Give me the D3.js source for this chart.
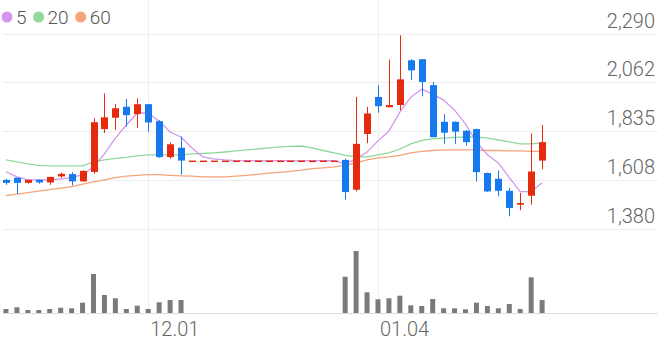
<!DOCTYPE html>
<html>
<head>
<meta charset="utf-8">
<script src="https://cdn.jsdelivr.net/npm/d3@7"></script>
<style>
  html, body { margin: 0; padding: 0; background: #fff; }
  svg { display: block; font-family: Roboto, "Noto Sans", sans-serif; }
</style>
</head>
<body>
<svg id="chart" width="658" height="342"></svg>
<script>
// trading days, Nov 14 .. Jan 25 (Dec 7 - Dec 27 halted)
const dates = ["11.14","11.15","11.16","11.17","11.20","11.21","11.22","11.23","11.24","11.27",
  "11.28","11.29","11.30","12.01","12.04","12.05","12.06","12.07","12.08","12.11",
  "12.12","12.13","12.14","12.15","12.18","12.19","12.20","12.21","12.22","12.26",
  "12.27","12.28","01.02","01.03","01.04","01.05","01.08","01.09","01.10","01.11",
  "01.12","01.15","01.16","01.17","01.18","01.19","01.22","01.23","01.24","01.25"];

const open  = [1607,1617,1593,1607,1595,1623,1634,1600,1644,1844,1897,1948,1914,1960,1881,1713,1757,
  1697,1697,1697,1697,1697,1697,1697,1697,1697,1697,1697,1697,1697,1697,
  1700,1561,1821,1994,1946,1956,2165,2170,2049,1878,1878,1836,1844,1639,1612,1556,1491,1533,1697];
const high  = [1612,1617,1607,1609,1621,1641,1643,1651,1894,2010,1960,1984,1987,1962,1885,1781,1809,
  1697,1697,1697,1697,1697,1697,1697,1697,1697,1697,1697,1697,1697,1697,
  1705,1994,1948,2049,2168,2281,2170,2170,2064,1914,1880,1840,1846,1641,1651,1569,1546,1824,1863];
const low   = [1584,1542,1589,1589,1584,1617,1581,1598,1635,1826,1840,1855,1850,1832,1710,1706,1631,
  1697,1697,1697,1697,1697,1697,1697,1697,1697,1697,1697,1697,1697,1697,
  1515,1553,1778,1920,1946,1932,2072,1997,1806,1775,1775,1767,1600,1550,1530,1437,1465,1491,1657];
const close = [1593,1593,1607,1595,1621,1635,1600,1649,1876,1899,1941,1909,1960,1875,1713,1773,1697,
  1697,1697,1697,1697,1697,1697,1697,1697,1697,1697,1697,1697,1697,1697,
  1550,1775,1917,1951,1956,2076,2118,2064,1806,1827,1832,1783,1643,1553,1556,1476,1499,1646,1783];
const volume = [4000,5700,3000,3000,4000,5300,4700,10300,39000,18000,14700,4000,7300,4000,10700,13000,13000,
  0,0,0,0,0,0,0,0,0,0,0,0,0,0,
  36300,62000,20700,13700,14700,17300,7700,7000,14000,4700,4700,3700,10300,7000,4700,9000,4000,35700,13000];

const ma5  = [1645,1621,1607,1607,1607,1612,1617,1631,1668,1728,1802,1863,1919,1919,1881,1830,1807,
  1756,1714,1705,1700,1697,1697,1697,1697,1697,1697,1697,1697,1697,1697,
  1682,1705,1737,1789,1835,1923,1993,2030,2007,1979,1932,1867,1784,1724,1686,1617,1552,1552,1593];
const ma20 = [1700,1691,1682,1675,1672,1672,1672,1672,1691,1700,1707,1712,1719,1724,1724,1724,1724,
  1728,1730,1733,1737,1742,1747,1751,1756,1761,1763,1765,1756,1744,1733,
  1721,1714,1714,1724,1733,1751,1775,1791,1798,1802,1805,1807,1807,1802,1793,1784,1775,1775,1779];
const ma60 = [1533,1540,1547,1554,1561,1568,1575,1587,1598,1607,1617,1624,1628,1631,1631,1628,1626,
  1624,1621,1621,1621,1624,1628,1633,1638,1642,1647,1652,1659,1663,1668,
  1675,1686,1700,1710,1714,1721,1733,1740,1744,1747,1747,1747,1747,1744,1744,1742,1742,1740,1740];

const priceTicks = [1380,1607.5,1835,2062.5,2290];
const priceTickLabels = ["1,380","1,608","1,835","2,062","2,290"];
const dateTicks = ["12.01","01.04"];

const maSeries = [
  {name: "5",  values: ma5,  color: "#d395ee"},
  {name: "20", values: ma20, color: "#90d89c"},
  {name: "60", values: ma60, color: "#f5a47c"}
];

const upColor = "#e62a0d";
const downColor = "#1779ee";
const W = 658, H = 342;
const slots = 60;

const svg = d3.select("#chart");

const x = d3.scaleBand()
  .domain(d3.range(slots))
  .range([0.5, 657])
  .paddingInner(0);
const cx = i => x(i) + x.bandwidth() / 2;

const y = d3.scaleLinear()
  .domain([1380, 2290])
  .range([228.5, 33.5]);

const yv = d3.scaleLinear()
  .domain([0, d3.max(volume)])
  .range([313, 251]);

// grid
const grid = svg.append("g");
grid.selectAll("line.h")
  .data(priceTicks)
  .enter().append("line")
  .attr("x1", 3).attr("x2", W)
  .attr("y1", d => Math.round(y(d)) + 0.5)
  .attr("y2", d => Math.round(y(d)) + 0.5)
  .attr("stroke", "#eeeeee");

grid.selectAll("line.v")
  .data(dateTicks)
  .enter().append("line")
  .attr("x1", d => Math.round(cx(dates.indexOf(d))) + 0.5)
  .attr("x2", d => Math.round(cx(dates.indexOf(d))) + 0.5)
  .attr("y1", 0).attr("y2", 313)
  .attr("stroke", "#eeeeee");

grid.append("line")
  .attr("x1", 3).attr("x2", W)
  .attr("y1", 313.5).attr("y2", 313.5)
  .attr("stroke", "#dddddd");

// price labels
svg.append("g").selectAll("text")
  .data(priceTicks)
  .enter().append("text")
  .attr("x", 655)
  .attr("y", d => y(d) - 6)
  .attr("text-anchor", "end")
  .attr("font-size", 20)
  .attr("font-weight", 300)
  .attr("fill", "#666")
  .text((d, i) => priceTickLabels[i]);

// date labels, left aligned on the grid line
svg.append("g").selectAll("text")
  .data(dateTicks)
  .enter().append("text")
  .attr("x", d => cx(dates.indexOf(d)) + 2)
  .attr("y", 336)
  .attr("text-anchor", "start")
  .attr("font-size", 20)
  .attr("font-weight", 300)
  .attr("fill", "#666")
  .text(d => d);

// volume
svg.append("g").selectAll("rect")
  .data(volume)
  .enter().append("rect")
  .attr("x", (d, i) => cx(i) - 2.5)
  .attr("width", 5)
  .attr("y", d => yv(d))
  .attr("height", d => yv(0) - yv(d))
  .attr("fill", "#7a7a7a");

// moving averages
const line = d3.line()
  .x((d, i) => cx(i))
  .y(d => y(d));

svg.append("g").selectAll("path")
  .data(maSeries.slice().reverse())
  .enter().append("path")
  .attr("d", d => line(d.values))
  .attr("fill", "none")
  .attr("stroke", d => d.color)
  .attr("stroke-width", 1.3);

// candles
const candles = svg.append("g").selectAll("g")
  .data(d3.range(close.length))
  .enter().append("g");

const colorOf = i => close[i] >= open[i] ? upColor : downColor;

candles.append("line")
  .attr("x1", i => Math.round(cx(i)) + 0.5)
  .attr("x2", i => Math.round(cx(i)) + 0.5)
  .attr("y1", i => y(high[i]))
  .attr("y2", i => y(low[i]))
  .attr("stroke", colorOf)
  .attr("stroke-width", 1);

candles.append("rect")
  .attr("x", i => Math.round(cx(i)) - 3)
  .attr("width", 7)
  .attr("y", i => y(Math.max(open[i], close[i])))
  .attr("height", i => Math.max(1.5, Math.abs(y(open[i]) - y(close[i]))))
  .attr("fill", colorOf);

// legend
const legend = svg.append("g").attr("transform", "translate(0,17)");
let lx = 7;
maSeries.forEach(s => {
  legend.append("circle")
    .attr("cx", lx).attr("cy", 0).attr("r", 5.5)
    .attr("fill", s.color);
  const t = legend.append("text")
    .attr("x", lx + 9).attr("y", 6.5)
    .attr("font-size", 19)
    .attr("font-weight", 300)
    .attr("fill", "#555")
    .text(s.name);
  lx += 9 + t.node().getComputedTextLength() + 12;
});
</script>
</body>
</html>
